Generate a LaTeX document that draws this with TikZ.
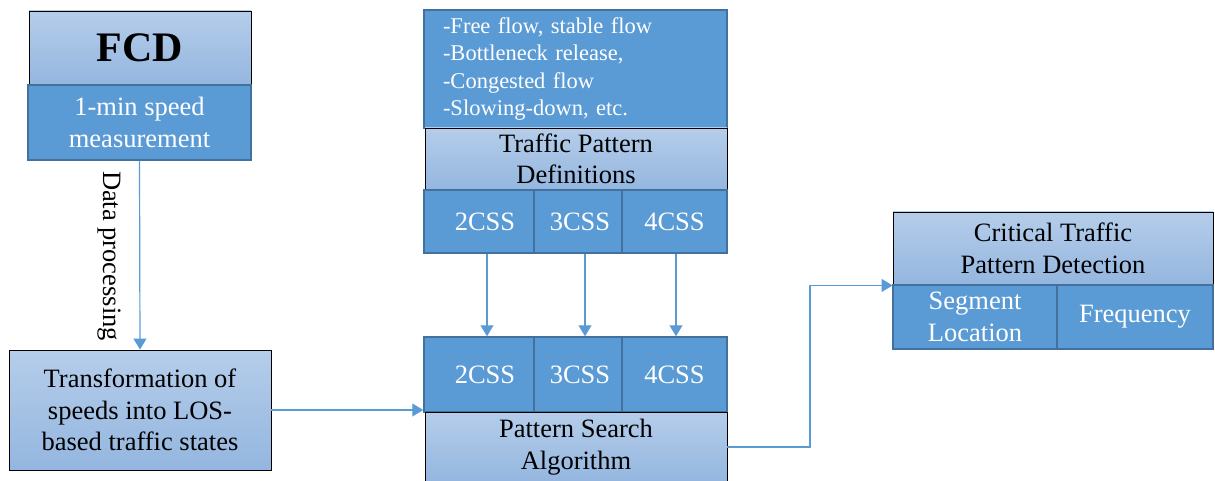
\documentclass[tikz,border=0pt]{standalone}
\usepackage{fontspec}
\setmainfont{Liberation Serif}
\usetikzlibrary{arrows.meta}
\definecolor{darkfill}{HTML}{5B9BD5}
\definecolor{darkedge}{HTML}{41719C}
\definecolor{lighttop}{HTML}{B5CDEA}
\definecolor{lightbot}{HTML}{94B6DF}
\definecolor{conn}{HTML}{5B9BD5}
\tikzset{
  box/.style={rectangle, inner sep=0pt, align=center, font=\fontsize{26.5}{31.5}\selectfont},
  lightbox/.style={box, draw=black, line width=0.9pt, top color=lighttop, bottom color=lightbot, text=black},
  darkbox/.style={box, draw=darkedge, line width=1.5pt, fill=darkfill, text=white},
  conarrow/.style={draw=conn, line width=1.2pt, -{Triangle[length=11pt,width=13pt]}},
}
\begin{document}
\begin{tikzpicture}[x=1pt,y=-1pt]
\useasboundingbox (0,0) rectangle (1215,481);
% left column
\node[lightbox, minimum width=222pt, minimum height=74pt, font=\fontsize{42}{50}\selectfont\bfseries] (fcd) at (140,48) {FCD};
\node[darkbox, minimum width=223pt, minimum height=75pt] (meas) at (139.5,122.5) {1-min speed\\measurement};
\node[lightbox, minimum width=262pt, minimum height=120pt] (trans) at (140,410) {Transformation of\\speeds into LOS-\\based traffic states};
% middle top
\node[darkbox, minimum width=303pt, minimum height=118pt, align=left, text width=265pt, font=\fontsize{22.5}{27.4}\selectfont] (list) at (575.5,69) {-Free flow, stable flow\\-Bottleneck release,\\-Congested flow\\-Slowing-down, etc.};
\node[lightbox, minimum width=302pt, minimum height=62pt] (tpd) at (576,159) {Traffic Pattern\\Definitions};
\node[darkbox, minimum width=110pt, minimum height=63pt] (c2a) at (479,221.5) {\hspace{12pt}2CSS};
\node[darkbox, minimum width=88pt, minimum height=63pt] (c3a) at (578,221.5) {\hspace{4pt}3CSS};
\node[darkbox, minimum width=105pt, minimum height=63pt] (c4a) at (674.5,221.5) {4CSS};
% middle bottom
\node[darkbox, minimum width=110pt, minimum height=75pt] (c2b) at (479,374.5) {\hspace{12pt}2CSS};
\node[darkbox, minimum width=88pt, minimum height=75pt] (c3b) at (578,374.5) {\hspace{4pt}3CSS};
\node[darkbox, minimum width=105pt, minimum height=75pt] (c4b) at (674.5,374.5) {4CSS};
\node[lightbox, minimum width=302pt, minimum height=70pt] (psa) at (576,447) {Pattern Search\\Algorithm};
% right
\node[lightbox, minimum width=320pt, minimum height=73pt] (ctp) at (1053,248.5) {Critical Traffic\\Pattern Detection};
\node[darkbox, minimum width=164pt, minimum height=64pt] (seg) at (975,317) {Segment\\Location};
\node[darkbox, minimum width=156pt, minimum height=64pt] (freq) at (1135,317) {Frequency};
% connectors
\draw[conarrow] (meas.south) -- (trans.north);
\node[rotate=-90, font=\fontsize{26.5}{30}\selectfont] (dp) at (109,256) {Data processing};
\draw[conarrow] (trans.east) -- (trans.east -| c2b.west);
\draw[conarrow] ([xshift=8pt]c2a.south) -- ([xshift=8pt]c2b.north);
\draw[conarrow] ([xshift=7pt]c3a.south) -- ([xshift=7pt]c3b.north);
\draw[conarrow] ([xshift=1.5pt]c4a.south) -- ([xshift=1.5pt]c4b.north);
\coordinate (bend) at (810,447);
\draw[conarrow] (psa.east) -- (bend) |- (ctp.south west);
\end{tikzpicture}
\end{document}
